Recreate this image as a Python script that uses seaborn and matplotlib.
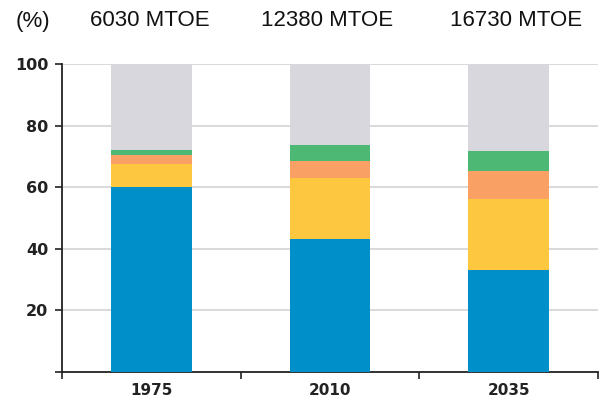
import matplotlib
matplotlib.use("Agg")
import matplotlib.pyplot as plt
import numpy as np
import pandas as pd
import seaborn as sns

years = ["1975", "2010", "2035"]
totals = ["6030 MTOE", "12380 MTOE", "16730 MTOE"]
blue = [60.0, 43.3, 33.0]
yellow = [7.5, 19.8, 23.1]
orange = [3.1, 5.3, 9.0]
green = [1.6, 5.3, 6.7]
grey = [27.8, 26.3, 28.2]

series = [("blue", blue, "#008fc8"), ("yellow", yellow, "#fdc83f"),
          ("orange", orange, "#f9a064"), ("green", green, "#4db874"),
          ("grey", grey, "#d9d7de")]

sns.set_theme(style="white")
plt.rcParams["font.family"] = ["Liberation Sans", "DejaVu Sans"]

fig = plt.figure(figsize=(6.03, 4.01), dpi=100)
ax = fig.add_axes([62 / 603, 1 - 372 / 401, 536 / 603, 308 / 401])

# stacked bars: draw cumulative heights from the tallest down
cum = np.cumsum([s[1] for s in series], axis=0)
for (name, vals, color), top in reversed(list(zip(series, cum))):
    df = pd.DataFrame({"year": years, "value": top})
    sns.barplot(data=df, x="year", y="value", color=color, width=0.45,
                saturation=1, ax=ax, linewidth=0, zorder=3)

ax.set_xlim(-0.5, 2.5)
ax.set_ylim(0, 100)
ax.set_xlabel("")
ax.set_ylabel("")

for y in [20, 40, 60, 80, 100]:
    ax.axhline(y, color="#cfcfcf", lw=1.1, zorder=1)

ax.set_yticks([0, 20, 40, 60, 80, 100])
ax.set_yticklabels(["", "20", "40", "60", "80", "100"], fontweight="bold",
                   fontsize=11.5, color="#222222", family="DejaVu Sans")
ax.set_xticks([-0.5, 0.5, 1.5, 2.5])
ax.set_xticklabels([])
ax.set_xticks([0, 1, 2], minor=True)
ax.set_xticklabels(years, minor=True, fontweight="bold", fontsize=11,
                   color="#222222", family="DejaVu Sans")
ax.tick_params(axis="x", which="major", direction="out", length=5, width=1.2,
               color="#222222", bottom=True)
ax.tick_params(axis="x", which="minor", length=0, pad=8)
ax.tick_params(axis="y", direction="out", length=5, width=1.2,
               color="#222222", left=True, pad=5)

for side in ["top", "right"]:
    ax.spines[side].set_visible(False)
for side in ["left", "bottom"]:
    ax.spines[side].set_color("#222222")
    ax.spines[side].set_linewidth(1.3)

# header row: unit label and total demand above each bar
header_x = [33, 150, 327, 516]
header_text = ["(%)"] + totals
for x, t in zip(header_x, header_text):
    fig.text(x / 603, 1 - 21 / 401, t, ha="center", va="center",
             fontsize=16, color="#111111")

fig.savefig("out.png", dpi=100)
